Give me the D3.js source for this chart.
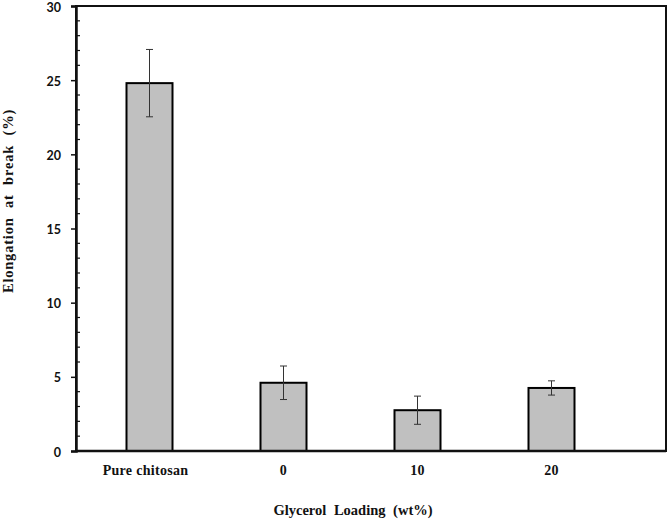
<!DOCTYPE html>
<html>
<head>
<meta charset="utf-8">
<script src="https://cdn.jsdelivr.net/npm/d3@7"></script>
<style>
  body { margin: 0; background: #fff; }
</style>
</head>
<body>
<svg id="chart"></svg>
<script>
// data
var categories = ["Pure chitosan", "0", "10", "20"];
var elongation = [24.8, 4.6, 2.75, 4.25];
var errors = [2.27, 1.13, 0.95, 0.48];
var yTicks = [0, 5, 10, 15, 20, 25, 30];

var width = 669, height = 526;
var plotLeft = 76, plotRight = 666, plotTop = 6, plotBottom = 451;

var svg = d3.select("#chart")
    .attr("width", width)
    .attr("height", height);

var y = d3.scaleLinear()
    .domain([0, 30])
    .range([plotBottom, plotTop]);

// bar centres sit on a point scale
var x = d3.scalePoint()
    .domain(categories)
    .range([149.5, 551.5]);

var barW = 46;

// plot frame
svg.append("rect")
    .attr("x", plotLeft)
    .attr("y", plotTop)
    .attr("width", plotRight - plotLeft)
    .attr("height", plotBottom - plotTop)
    .attr("fill", "none")
    .attr("stroke", "#111")
    .attr("stroke-width", 2);

// bars
svg.selectAll(".bar")
    .data(elongation)
    .enter()
    .append("rect")
    .attr("class", "bar")
    .attr("x", function(d, i) { return x(categories[i]) - barW / 2; })
    .attr("y", function(d) { return y(d); })
    .attr("width", barW)
    .attr("height", function(d) { return plotBottom - y(d); })
    .attr("fill", "#c0c0c0")
    .attr("stroke", "#000")
    .attr("stroke-width", 2);

// error bars
var err = svg.selectAll(".err")
    .data(elongation)
    .enter()
    .append("g")
    .attr("class", "err")
    .attr("stroke", "#333")
    .attr("stroke-width", 1);

err.append("line")
    .attr("x1", function(d, i) { return x(categories[i]); })
    .attr("x2", function(d, i) { return x(categories[i]); })
    .attr("y1", function(d, i) { return y(d + errors[i]); })
    .attr("y2", function(d, i) { return y(d - errors[i]); });

err.selectAll(".cap")
    .data(function(d, i) { return [[i, d + errors[i]], [i, d - errors[i]]]; })
    .enter()
    .append("line")
    .attr("x1", function(d) { return x(categories[d[0]]) - 3.5; })
    .attr("x2", function(d) { return x(categories[d[0]]) + 3.5; })
    .attr("y1", function(d) { return y(d[1]); })
    .attr("y2", function(d) { return y(d[1]); });

// y axis: major ticks outside, minor ticks inside
var yAxis = svg.append("g")
    .attr("transform", "translate(" + plotLeft + ",0)")
    .call(d3.axisLeft(y).tickValues(yTicks).tickSize(5).tickPadding(10));

yAxis.select(".domain").attr("stroke", "#111").attr("stroke-width", 2.5);
yAxis.selectAll(".tick line").attr("stroke", "#111").attr("stroke-width", 1.5);
yAxis.selectAll("text")
    .attr("dy", "0.4em")
    .attr("font-family", "Lato, 'Open Sans', sans-serif")
    .attr("font-weight", "bold")
    .attr("font-size", 12.5)
    .attr("fill", "#111");

var minor = d3.range(0, 31).filter(function(v) { return v % 5 !== 0; });
svg.append("g")
    .selectAll("line")
    .data(minor)
    .enter()
    .append("line")
    .attr("x1", plotLeft)
    .attr("x2", plotLeft + 4)
    .attr("y1", function(d) { return y(d); })
    .attr("y2", function(d) { return y(d); })
    .attr("stroke", "#111")
    .attr("stroke-width", 1.2);

// x axis line
svg.append("line")
    .attr("x1", plotLeft)
    .attr("x2", plotRight)
    .attr("y1", plotBottom)
    .attr("y2", plotBottom)
    .attr("stroke", "#111")
    .attr("stroke-width", 2.5);

// category labels
svg.selectAll(".cat")
    .data(categories)
    .enter()
    .append("text")
    .attr("class", "cat")
    .attr("x", function(d) { return x(d) - (d === "Pure chitosan" ? 4 : 0); })
    .attr("y", 475)
    .attr("text-anchor", "middle")
    .attr("font-family", "'Liberation Serif', 'Times New Roman', serif")
    .attr("font-weight", "bold")
    .attr("font-size", 14)
    .attr("letter-spacing", 0.3)
    .attr("fill", "#111")
    .text(function(d) { return d; });

// axis titles
svg.append("text")
    .attr("x", 353)
    .attr("y", 515)
    .attr("text-anchor", "middle")
    .attr("font-family", "'Liberation Serif', 'Times New Roman', serif")
    .attr("font-weight", "bold")
    .attr("font-size", 14.5)
    .attr("word-spacing", 4)
    .attr("fill", "#111")
    .text("Glycerol Loading (wt%)");

svg.append("text")
    .attr("transform", "translate(13,201) rotate(-90)")
    .attr("text-anchor", "middle")
    .attr("font-family", "'Liberation Serif', 'Times New Roman', serif")
    .attr("font-weight", "bold")
    .attr("font-size", 14.5)
    .attr("letter-spacing", 0.8)
    .attr("word-spacing", 5)
    .attr("fill", "#111")
    .text("Elongation at break (%)");
</script>
</body>
</html>
